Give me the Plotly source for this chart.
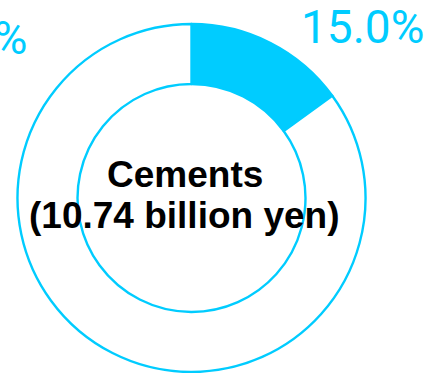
import plotly.graph_objects as go

# Segment share of sales (percent)
segments = ["Cements", "Other"]
shares = [15.0, 85.0]
center_title = "Cements"
center_amount = "(10.74 billion yen)"

CYAN = "#00CCFF"
W, H = 424, 373

fig = go.Figure(
    go.Pie(
        labels=segments,
        values=shares,
        hole=0.655,
        sort=False,
        direction="clockwise",
        rotation=0,
        textinfo="none",
        hoverinfo="label+percent",
        marker=dict(colors=[CYAN, "white"], line=dict(color=CYAN, width=2.4)),
        showlegend=False,
        domain=dict(x=[(191.5 - 174) / W, (191.5 + 174) / W],
                    y=[(H - 198 - 174) / H, (H - 198 + 174) / H]),
    )
)

pct_font = dict(family="Roboto, Arial", size=46, color=CYAN)
# share label of the highlighted segment
fig.add_annotation(x=426 / W, y=1 + 2 / H, xref="paper", yref="paper",
                   xanchor="right", yanchor="top", showarrow=False,
                   text=f"{shares[0]:.1f}%", font=pct_font)
# share label of the remaining part, running off the left edge
fig.add_annotation(x=29 / W, y=1 - 9 / H, xref="paper", yref="paper",
                   xanchor="right", yanchor="top", showarrow=False,
                   text=f"{shares[1]:.1f}%", font=pct_font)

ctr_font = dict(family="Liberation Sans, Arial", size=37, color="black")
fig.add_annotation(x=185 / W, y=1 - 174 / H, xref="paper", yref="paper",
                   xanchor="center", yanchor="middle", showarrow=False,
                   text=f"<b>{center_title}</b>", font=ctr_font)
fig.add_annotation(x=184 / W, y=1 - 215 / H, xref="paper", yref="paper",
                   xanchor="center", yanchor="middle", showarrow=False,
                   text=f"<b>{center_amount}</b>", font=ctr_font)

fig.update_layout(
    width=W, height=H,
    margin=dict(l=0, r=0, t=0, b=0),
    paper_bgcolor="white",
    plot_bgcolor="white",
)

fig.write_html("out.html")
